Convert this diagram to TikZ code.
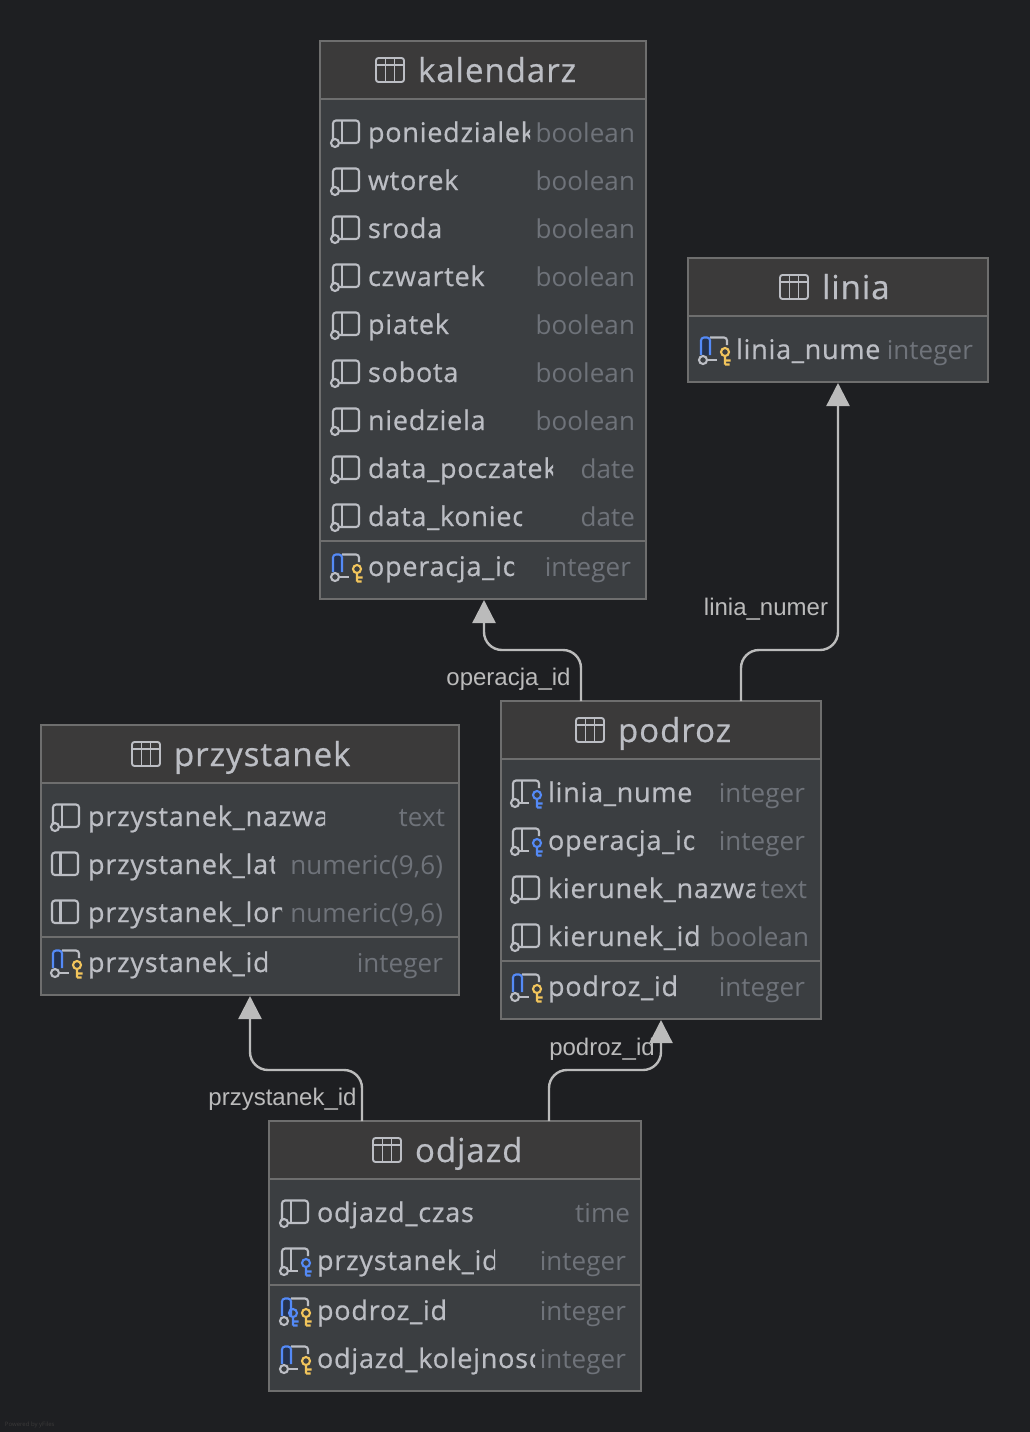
\documentclass[tikz,border=0pt]{standalone}
\usepackage{fontspec}
\setmainfont{Open Sans}
\newfontfamily\labelfont{Liberation Sans}
\newfontfamily\namefont[LetterSpace=2.8,FakeBold=0.6]{Open Sans}
\newfontfamily\titlefont[LetterSpace=3,FakeBold=0.6]{Open Sans}
\newfontfamily\typefont[LetterSpace=0.3]{Open Sans}
\usetikzlibrary{arrows.meta}
\definecolor{canvasbg}{HTML}{1E1F22}
\definecolor{bodybg}{HTML}{3B3E41}
\definecolor{headbg}{HTML}{3B3A3A}
\definecolor{edgegrey}{HTML}{6E6E6E}
\definecolor{namegrey}{HTML}{BCBEC4}
\definecolor{typegrey}{HTML}{6F737A}
\definecolor{linkgrey}{HTML}{BBBBBB}
\definecolor{keyyellow}{HTML}{F2C55C}
\definecolor{keyblue}{HTML}{548AF7}
\definecolor{pkfill}{HTML}{25324D}
\tikzset{
  x=1pt, y=-1pt,
  every node/.style={inner sep=0pt, outer sep=0pt},
  tbox/.style={draw=edgegrey, fill=bodybg, line width=1.3pt, rectangle, anchor=north west},
  tsep/.style={draw=edgegrey, line width=2pt},
  ttitle/.style={anchor=base west, text=namegrey, font=\titlefont\fontsize{33}{36}\selectfont},
  fname/.style={anchor=base west, text=namegrey, font=\namefont\fontsize{27}{30}\selectfont},
  ftype/.style={anchor=base east, text=typegrey, font=\typefont\fontsize{26}{30}\selectfont},
  flabel/.style={anchor=base, text=linkgrey, font=\labelfont\fontsize{24}{27}\selectfont},
  fklink/.style={draw=linkgrey, line width=2.4pt, rounded corners=18pt, -{Triangle[length=23pt,width=23pt]}},
  iconline/.style={draw=namegrey, line width=2.1pt},
  pics/tableicon/.style={code={
    \draw[iconline, line width=1.9pt, rounded corners=2.5pt] (0,-12) rectangle (28,12);
    \draw[iconline, line width=1.9pt] (0,-5) -- (28,-5) (9.5,-12) -- (9.5,12) (18.5,-12) -- (18.5,12);
  }},
  pics/keyicon/.style={code={
    \draw[draw=#1, line width=2.1pt] (0,0) circle (4) (0,4) -- (0,12.5) (0,8.5) -- (5.5,8.5) (0,12.5) -- (4.5,12.5);
  }},
  pics/nullring/.style={code={
    \draw[iconline] (15,10) circle (4);
  }},
  pics/baricon/.style={code={
    \draw[iconline, rounded corners=3pt] (12,-12.5) rectangle (38,10);
    \draw[iconline] (20.5,-12.5) -- (20.5,10);
  }},
  pics/colicon/.style={code={
    \draw[iconline, rounded corners=3pt] (13,6) -- (13,-12.5) -- (39,-12.5) -- (39,10) -- (19.5,10);
    \draw[iconline] (22,-12.5) -- (22,10);
    \pic {nullring};
  }},
  pics/fkicon/.style={code={
    \draw[iconline, rounded corners=3pt] (13,6) -- (13,-12.5) -- (39,-12.5) -- (39,-5);
    \draw[iconline] (22,-12.5) -- (22,10) (19.5,10) -- (29,10);
    \pic {nullring};
    \pic at (37,2) {keyicon=keyblue};
  }},
  pics/pkicon/.style={code={
    \draw[iconline, rounded corners=3pt] (22,-12.5) -- (39,-12.5) -- (39,-5);
    \draw[iconline] (19.5,10) -- (29,10);
    \draw[draw=keyblue, fill=pkfill, line width=2.1pt, rounded corners=3pt] (13,5) -- (13,-12.5) -- (22,-12.5) -- (22,5);
    \pic {nullring};
    \pic at (37,2) {keyicon=keyyellow};
  }},
  pics/pfkicon/.style={code={
    \draw[iconline, rounded corners=3pt] (22,-12.5) -- (39,-12.5) -- (39,-5);
    \draw[draw=keyblue, fill=pkfill, line width=2.1pt, rounded corners=3pt] (13,5) -- (13,-12.5) -- (22,-12.5) -- (22,5);
    \pic {nullring};
    \pic at (24,2) {keyicon=keyblue};
    \pic at (37,2) {keyicon=keyyellow};
  }}
}
% #1 id, #2 title, #3 icon x, #4 width, #5 height
\newcommand{\tablehead}[5]{
  \node [tbox, minimum width=#4pt, minimum height=#5pt] (#1) at (0,0) {};
  \node [tbox, fill=headbg, minimum width=#4pt, minimum height=58pt] (#1head) at (0,0) {};
  \pic at (#3,29) {tableicon};
  \node [ttitle] (#1title) at (#3+42,41) {#2};
}
\newcommand{\tablesep}[2]{\draw[tsep] (0,#1) -- (#2,#1);}
% #1 id, #2 y, #3 name, #4 clip x, #5 type, #6 type right x, #7 icon
\newcommand{\fieldrow}[7]{
  \begin{scope}[shift={(0,#2)}]
    \pic {#7};
    \begin{scope}
      \clip (40,-24) rectangle (#4,24);
      \node [fname] (#1) at (48,9) {#3};
    \end{scope}
    \node [ftype] (#1type) at (#6,9) {#5};
  \end{scope}
}
\begin{document}
\begin{tikzpicture}
  \fill[canvasbg] (0,0) rectangle (1030,1432);
  \useasboundingbox (0,0) rectangle (1030,1432);

  \begin{scope}[shift={(320,41)}]
    \tablehead{kalendarz}{kalendarz}{56}{326}{558}
    \tablesep{58}{326}
    \fieldrow{poniedzialek}{92}{poniedzialek}{210}{boolean}{315}{colicon}
    \fieldrow{wtorek}{140}{wtorek}{210}{boolean}{315}{colicon}
    \fieldrow{sroda}{188}{sroda}{210}{boolean}{315}{colicon}
    \fieldrow{czwartek}{236}{czwartek}{210}{boolean}{315}{colicon}
    \fieldrow{piatek}{284}{piatek}{210}{boolean}{315}{colicon}
    \fieldrow{sobota}{332}{sobota}{210}{boolean}{315}{colicon}
    \fieldrow{niedziela}{380}{niedziela}{210}{boolean}{315}{colicon}
    \fieldrow{poczatek}{428}{data\_poczatek}{233}{date}{315}{colicon}
    \fieldrow{koniec}{476}{data\_koniec}{202}{date}{315}{colicon}
    \tablesep{500}{326}
    \fieldrow{operacja}{526}{operacja\_id}{194}{integer}{311}{pkicon}
  \end{scope}

  \begin{scope}[shift={(688,258)}]
    \tablehead{linia}{linia}{92}{300}{124}
    \tablesep{58}{300}
    \fieldrow{numer}{92}{linia\_numer}{193}{integer}{285}{pkicon}
  \end{scope}

  \begin{scope}[shift={(501,701)}]
    \tablehead{podroz}{podroz}{75}{320}{318}
    \tablesep{58}{320}
    \begin{scope}[xshift=-1pt]
      \fieldrow{podroznumer}{92}{linia\_numer}{194}{integer}{305}{fkicon}
      \fieldrow{podrozoper}{140}{operacja\_id}{194}{integer}{305}{fkicon}
      \fieldrow{kierunek}{188}{kierunek\_nazwa}{255}{text}{307}{colicon}
      \fieldrow{kierunekid}{236}{kierunek\_id}{301}{boolean}{309}{colicon}
      \fieldrow{podrozid}{286}{podroz\_id}{177}{integer}{305}{pkicon}
    \end{scope}
    \tablesep{260}{320}
  \end{scope}

  \begin{scope}[shift={(41,725)}]
    \tablehead{przystanek}{przystanek}{91}{418}{270}
    \tablesep{58}{418}
    \begin{scope}[xshift=-1pt]
      \fieldrow{nazwa}{92}{przystanek\_nazwa}{285}{text}{405}{colicon}
      \fieldrow{lat}{140}{przystanek\_lat}{235}{numeric(9,6)}{403}{baricon}
      \fieldrow{lon}{188}{przystanek\_lon}{242}{numeric(9,6)}{403}{baricon}
      \fieldrow{przystanekid}{238}{przystanek\_id}{227}{integer}{403}{pkicon}
    \end{scope}
    \tablesep{212}{418}
  \end{scope}

  \begin{scope}[shift={(269,1121)}]
    \tablehead{odjazd}{odjazd}{104}{372}{270}
    \tablesep{58}{372}
    \fieldrow{czas}{92}{odjazd\_czas}{204}{time}{361}{colicon}
    \fieldrow{odjazdprz}{140}{przystanek\_id}{226}{integer}{357}{fkicon}
    \tablesep{164}{372}
    \fieldrow{odjazdpod}{190}{podroz\_id}{176}{integer}{357}{pfkicon}
    \fieldrow{kolejnosc}{238}{odjazd\_kolejnosc}{266}{integer}{357}{pkicon}
  \end{scope}

  \node [flabel] (operlabel) at (508.5,685) {operacja\_id};
  \node [flabel] (linialabel) at (766,615) {linia\_numer};
  \node [flabel] (przlabel) at (282.5,1105) {przystanek\_id};
  \node [flabel] (podlabel) at (602,1055) {podroz\_id};

  \draw[fklink] ([xshift=80pt]podroz.north west) -- ++(0,-51) -| ([xshift=164pt,yshift=-1pt]kalendarz.south west);
  \draw[fklink] ([xshift=240pt]podroz.north west) -- ++(0,-51) -| ([xshift=150pt,yshift=-1pt]linia.south west);
  \draw[fklink] ([xshift=93pt]odjazd.north west) -- ++(0,-51) -| ([xshift=209pt,yshift=-1pt]przystanek.south west);
  \draw[fklink] ([xshift=280pt]odjazd.north west) -- ++(0,-51) -| ([xshift=160pt,yshift=-1pt]podroz.south west);

  \node [anchor=base west, text=headbg, font=\fontsize{6}{7}\selectfont] (powered) at (5,1426) {Powered by yFiles};
\end{tikzpicture}
\end{document}
